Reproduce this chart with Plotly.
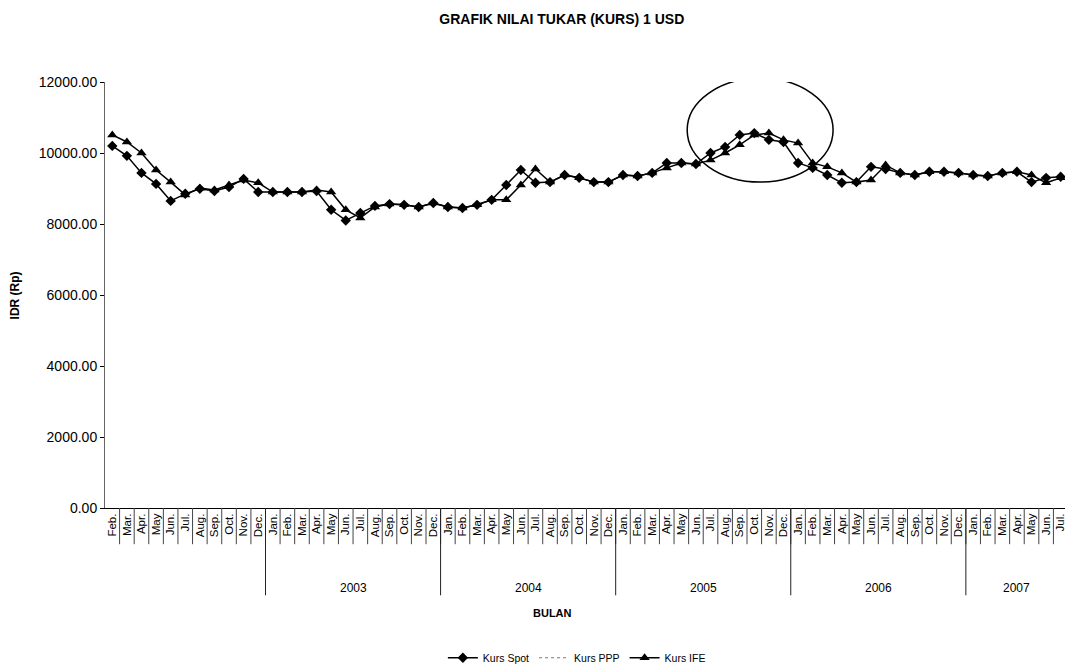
import plotly.graph_objects as go

# ---- data -------------------------------------------------------------
month_names = ["Jan.", "Feb.", "Mar.", "Apr.", "May", "Jun.", "Jul.",
               "Aug.", "Sep.", "Oct.", "Nov.", "Dec."]
# months per year shown on the axis (Feb 2002 .. Jul 2007)
year_spans = [("2002", 2, 12), ("2003", 1, 12), ("2004", 1, 12),
              ("2005", 1, 12), ("2006", 1, 12), ("2007", 1, 7)]
year_labels_shown = ["2003", "2004", "2005", "2006", "2007"]

kurs_spot = [
    10200, 9920, 9440, 9130, 8650, 8850, 8990, 8930, 9040, 9270, 8900,
    8900, 8900, 8900, 8930, 8400, 8100, 8310, 8510, 8560, 8540, 8480, 8590,
    8480, 8450, 8540, 8680, 9100, 9520, 9160, 9180, 9380, 9300, 9180, 9180,
    9380, 9350, 9440, 9720, 9720, 9690, 10000, 10170, 10510, 10560, 10370, 10310,
    9720, 9580, 9380, 9160, 9180, 9610, 9550, 9440, 9380, 9470, 9470, 9440,
    9380, 9350, 9440, 9470, 9180, 9300, 9330,
]
kurs_ife = [
    10510, 10310, 10000, 9520, 9180, 8820, 9010, 8960, 9100, 9240, 9160,
    8900, 8900, 8900, 8960, 8900, 8400, 8170, 8480, 8560, 8540, 8480, 8590,
    8480, 8450, 8540, 8680, 8680, 9100, 9550, 9180, 9380, 9300, 9180, 9180,
    9380, 9350, 9440, 9580, 9720, 9690, 9800, 10000, 10230, 10510, 10560, 10370,
    10280, 9720, 9610, 9440, 9180, 9240, 9660, 9440, 9380, 9470, 9470, 9440,
    9380, 9350, 9440, 9470, 9380, 9160, 9300,
]
kurs_ppp = []  # no visible values in the reference

y_ticks = [0, 2000, 4000, 6000, 8000, 10000, 12000]

# ---- build category axis --------------------------------------------
tick_text = []
year_groups = []  # (label, first index, last index)
for yr, m0, m1 in year_spans:
    start = len(tick_text)
    for m in range(m0, m1 + 1):
        tick_text.append(month_names[m - 1])
    year_groups.append((yr, start, len(tick_text) - 1))
xs = list(range(len(tick_text)))

FONT = "Liberation Sans, Arial, sans-serif"

fig = go.Figure()
fig.add_trace(go.Scatter(
    x=xs, y=kurs_spot, name="Kurs Spot", mode="lines+markers",
    line=dict(color="black", width=1.5),
    marker=dict(symbol="diamond", size=8, color="black")))
fig.add_trace(go.Scatter(
    x=[None] if not kurs_ppp else xs, y=[None] if not kurs_ppp else kurs_ppp,
    name="Kurs PPP", mode="lines",
    line=dict(color="#777", width=1, dash="dot")))
fig.add_trace(go.Scatter(
    x=xs, y=kurs_ife, name="Kurs IFE", mode="lines+markers",
    line=dict(color="black", width=1.5),
    marker=dict(symbol="triangle-up", size=9, color="black")))

shapes = []
# month separators below the axis
for i in range(len(xs) - 1):
    shapes.append(dict(type="line", xref="x", yref="paper",
                       x0=i + 0.5, x1=i + 0.5, y0=0, y1=-0.085,
                       line=dict(color="#444", width=1)))
# year dividers
annotations = []
for yr, a, b in year_groups:
    if a > 0:
        shapes.append(dict(type="line", xref="x", yref="paper",
                           x0=a - 0.5, x1=a - 0.5, y0=0, y1=-0.205,
                           line=dict(color="#222", width=1)))
    if yr in year_labels_shown:
        annotations.append(dict(text=yr, xref="x", yref="paper",
                                x=(a + b) / 2, y=-0.188, yanchor="middle",
                                showarrow=False,
                                font=dict(family=FONT, size=12, color="black")))

# ellipse around the 2005 peak
peak = kurs_spot.index(max(kurs_spot))
shapes.append(dict(type="circle", xref="x", yref="y",
                   x0=peak - 4.6, x1=peak + 5.4, y0=9180, y1=12110,
                   line=dict(color="black", width=1.5)))

annotations += [
    dict(text="<b>IDR (Rp)</b>", xref="paper", yref="paper", x=-0.093, y=0.5,
         xanchor="center", yanchor="middle",
         textangle=-90, showarrow=False,
         font=dict(family=FONT, size=12, color="black")),
    dict(text="<b>BULAN</b>", xref="paper", yref="paper", x=0.465, y=-0.246,
         xanchor="center", yanchor="middle",
         showarrow=False, font=dict(family=FONT, size=11, color="black")),
]

# page has an 8px body margin: figure is 8px smaller and offset
fig.update_layout(
    width=1065, height=663,
    paper_bgcolor="white", plot_bgcolor="white",
    margin=dict(l=97, r=5, t=74, b=163, autoexpand=False),
    font=dict(family=FONT, size=11, color="black"),
    title=dict(text="<b>GRAFIK NILAI TUKAR (KURS) 1 USD</b>",
               xref="container", yref="container", x=0.52, y=0.983,
               yanchor="middle", xanchor="center",
               font=dict(family=FONT, size=14, color="black")),
    xaxis=dict(range=[-0.5, len(xs) - 0.5], tickvals=xs, ticktext=tick_text,
               tickangle=-90, showgrid=False, zeroline=False, automargin=False,
               showline=True, linecolor="black", linewidth=1, ticks="",
               tickfont=dict(family=FONT, size=11.5, color="black")),
    yaxis=dict(range=[0, 12000], tickvals=y_ticks, tickformat=".2f",
               showgrid=False, zeroline=False, showline=True, automargin=False,
               linecolor="#666", linewidth=1, ticks="outside", ticklen=4,
               tickcolor="black",
               tickfont=dict(family=FONT, size=14, color="black")),
    legend=dict(orientation="h", x=0.49, xanchor="center",
                yref="container", y=0.02, yanchor="middle",
                font=dict(family=FONT, size=10.5, color="black"),
                bgcolor="rgba(0,0,0,0)", itemwidth=30),
    shapes=shapes, annotations=annotations,
)

fig.write_html("out.html")
